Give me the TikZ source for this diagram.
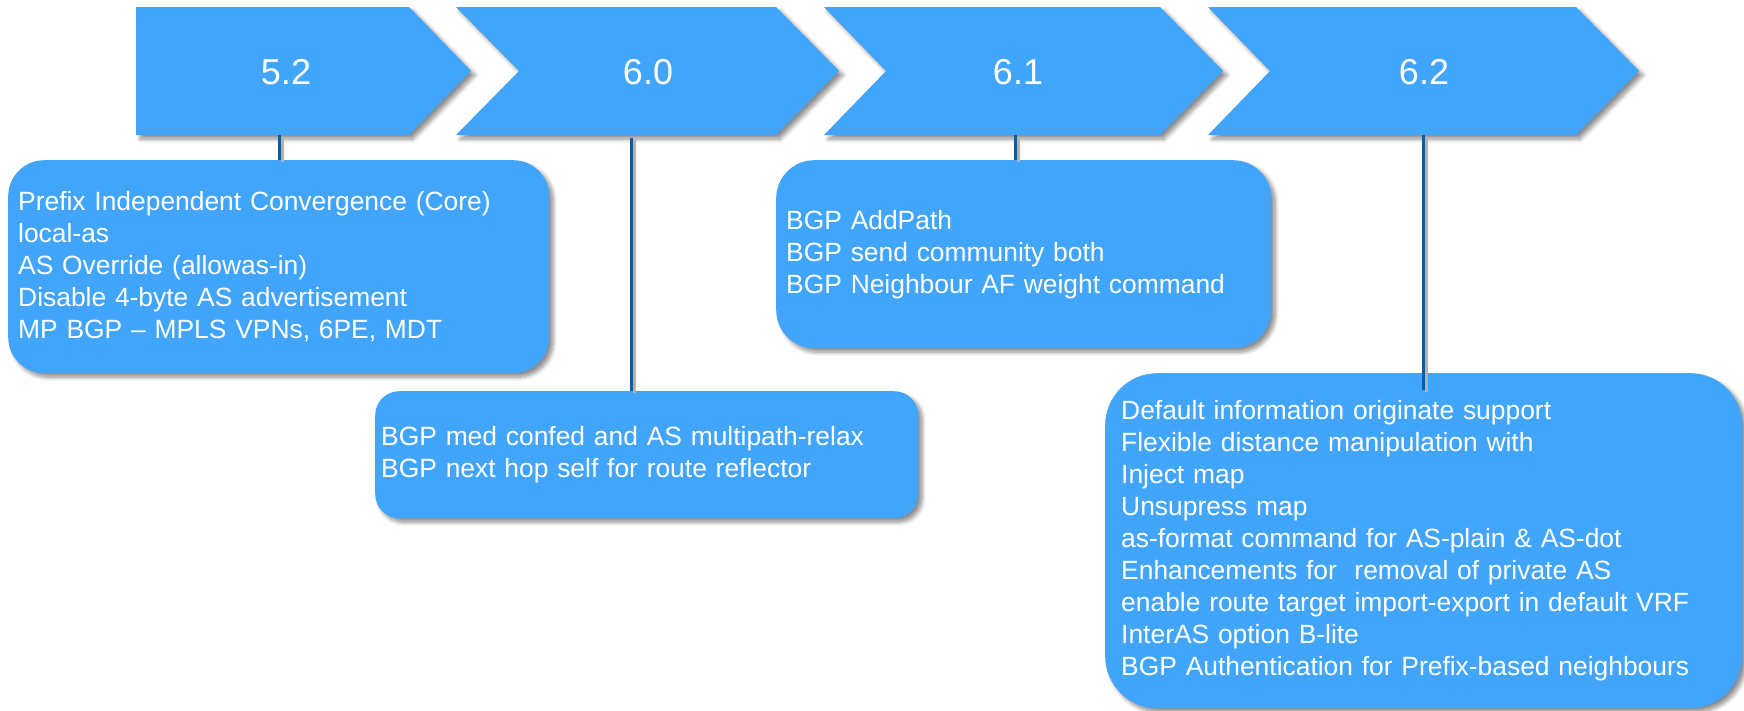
\documentclass[tikz,border=0pt]{standalone}
\usepackage{fontspec}
\setmainfont{Liberation Sans}
\usetikzlibrary{shadows.blur}
\definecolor{tileblue}{HTML}{41A5FB}
\definecolor{stemblue}{HTML}{0B5CAD}
\tikzset{
  softshadow/.style={blur shadow={shadow xshift=4pt, shadow yshift=-4pt,
      shadow blur radius=4pt, shadow blur steps=8, shadow opacity=45}},
  release/.style={fill=tileblue, softshadow},
  vlabel/.style={text=white, font=\fontsize{36}{40}\selectfont},
  notebox/.style={rectangle, fill=tileblue, softshadow, text=white,
      anchor=north west, align=left, inner ysep=0pt,
      font=\fontsize{26.4}{32}\selectfont},
  stem/.style={draw=stemblue, line width=3pt,
      preaction={draw=black!30, line width=3pt,
                 transform canvas={xshift=3pt, yshift=-2pt}}},
}
\begin{document}
\begin{tikzpicture}[x=1pt, y=-1pt]
\useasboundingbox (0,0) rectangle (1744,710);

% release chevrons
\fill[release] (136,7) -- (409,7) -- (471,71) -- (409,135) -- (136,135) -- cycle;
\fill[release] (456,7) -- (776,7) -- (839,71) -- (776,135) -- (456,135) -- (519,71) -- cycle;
\fill[release] (824,7) -- (1160,7) -- (1223,71) -- (1160,135) -- (824,135) -- (886,71) -- cycle;
\fill[release] (1208,7) -- (1576,7) -- (1639,71) -- (1576,135) -- (1208,135) -- (1270,71) -- cycle;

\node[vlabel] (v52) at (286,72) {5.2};
\node[vlabel] (v60) at (648,72) {6.0};
\node[vlabel] (v61) at (1018,72) {6.1};
\node[vlabel] (v62) at (1424,72) {6.2};

% stem anchors on the chevron bottoms
\coordinate (s52) at (279,135);
\coordinate (s60) at (631,138);
\coordinate (s61) at (1015,135);
\coordinate (s62) at (1423,135);

% feature boxes
\node[notebox, rounded corners=36pt, minimum width=541pt, minimum height=213pt,
      inner xsep=10pt, text width=521pt] (b52) at (8,160)
  {Prefix Independent Convergence (Core)\\
   local-as\\
   AS Override (allowas-in)\\
   Disable 4-byte AS advertisement\\
   MP BGP -- MPLS VPNs, 6PE, MDT};

\node[notebox, rounded corners=24pt, minimum width=543pt, minimum height=127pt,
      inner xsep=6pt, text width=531pt] (b60) at (375,391)
  {BGP med confed and AS multipath-relax\\
   BGP next hop self for route reflector};

\node[notebox, rounded corners=38pt, minimum width=495pt, minimum height=188pt,
      inner xsep=10pt, text width=475pt] (b61) at (776,160)
  {BGP AddPath\\
   BGP send community both\\
   BGP Neighbour AF weight command};

\node[notebox, rounded corners=52pt, minimum width=637pt, minimum height=335pt,
      inner xsep=16pt, text width=605pt] (b62) at (1105,373)
  {Default information originate support\\
   Flexible distance manipulation with\\
   Inject map\\
   Unsupress map\\
   as-format command for AS-plain \& AS-dot\\
   Enhancements for\ \ removal of private AS\\
   enable route target import-export in default VRF\\
   InterAS option B-lite\\
   BGP Authentication for Prefix-based neighbours};

% stems from releases to their boxes
\draw[stem] (s52) -- (s52 |- b52.north);
\draw[stem] (s60) -- (s60 |- b60.north);
\draw[stem] (s61) -- (s61 |- b61.north);
\draw[stem, shorten >=-17pt] (s62) -- (s62 |- b62.north);
\end{tikzpicture}
\end{document}
